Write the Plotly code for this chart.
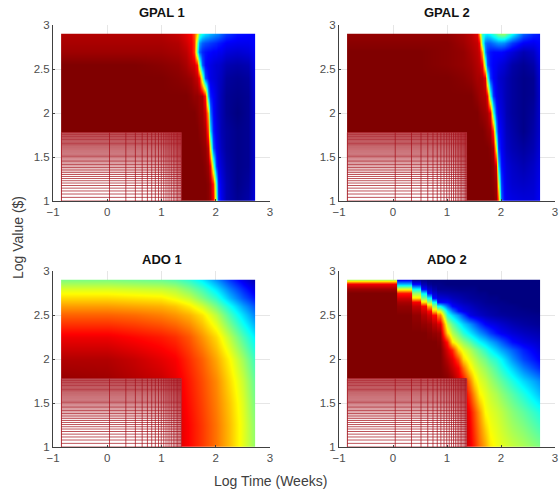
import numpy as np
import plotly.graph_objects as go

W, H = 559, 491
titles = ["GPAL 1", "GPAL 2", "ADO 1", "ADO 2"]
x_label = "Log Time (Weeks)"
y_label = "Log Value ($)"
tick_x = [-1, 0, 1, 2, 3]
tick_y = [1, 1.5, 2, 2.5, 3]

# Mesh lines of the lower-left region (weeks and dollars)
mesh_weeks = [0.143, 1.1, 2.2, 3.3, 4.4, 5.5, 6.6, 7.7, 8.8, 9.9, 11.0, 12.1, 13.2, 14.3, 15.4, 16.5,
              17.6, 18.7, 19.8, 20.9, 22.0, 23.1]
mesh_value = [10, 11, 12, 13, 14, 15, 16, 17, 18, 19, 20, 21, 22, 23, 24, 25, 26, 27, 28, 29, 30, 31, 32, 33, 34, 35,
              36, 37, 38, 39, 40, 41, 42, 43, 44, 45, 46, 47, 48, 49, 50, 51, 52, 53, 54, 55, 56, 57, 58, 59, 60]

gpal_x = [-0.85, 0.5, 1.0, 1.3, 1.45, 1.55, 1.6, 1.65, 1.7, 1.75, 1.8, 1.85, 1.9, 1.95, 2.0, 2.05, 2.1, 2.2, 2.4, 2.6, 2.72]
gpal_y = [1.0, 1.2, 1.4, 1.6, 1.8, 2.0, 2.2, 2.4, 2.55, 2.7, 2.8, 2.9]

gpal1_z = [
 [1,1,1,1,1,1,1,1,1,1,1,.99,.97,.88,.50,.17,.11,.05,.02,.04,.10],
 [1,1,1,1,1,1,1,1,1,1,1,.99,.96,.84,.42,.15,.10,.05,.01,.03,.09],
 [1,1,1,1,1,1,1,1,1,1,.99,.97,.88,.50,.17,.11,.08,.04,.01,.02,.08],
 [1,1,1,1,1,1,1,1,1,.99,.98,.93,.60,.20,.12,.09,.06,.03,.01,.02,.08],
 [1,1,1,1,1,1,1,1,.99,.98,.96,.80,.35,.15,.10,.08,.05,.03,.01,.02,.08],
 [1,1,1,1,1,1,1,.99,.98,.97,.92,.68,.24,.13,.09,.07,.05,.02,.00,.02,.08],
 [1,1,1,1,1,.99,.98,.98,.97,.96,.85,.30,.15,.12,.09,.07,.05,.02,.01,.02,.09],
 [1,1,1,.99,.98,.97,.95,.93,.87,.53,.19,.13,.10,.09,.08,.07,.06,.03,.02,.03,.10],
 [1,1,.99,.98,.96,.93,.92,.85,.50,.21,.13,.11,.10,.09,.08,.08,.07,.05,.04,.05,.11],
 [.97,.97,.97,.96,.94,.90,.82,.43,.22,.16,.14,.13,.13,.12,.12,.11,.11,.09,.08,.09,.12],
 [.96,.96,.96,.95,.92,.89,.82,.50,.28,.22,.20,.19,.18,.17,.16,.15,.14,.12,.11,.11,.13],
 [.95,.95,.95,.93,.90,.87,.80,.65,.45,.38,.34,.32,.30,.28,.26,.25,.22,.18,.14,.13,.12],
]

gpal2_z = [
 [1,1,1,1,1,1,1,1,1,1,1,1,.98,.80,.22,.13,.11,.10,.09,.09,.12],
 [1,1,1,1,1,1,1,1,1,1,1,.99,.97,.60,.18,.12,.10,.08,.07,.08,.11],
 [1,1,1,1,1,1,1,1,1,1,1,.98,.92,.35,.14,.11,.09,.07,.05,.07,.10],
 [1,1,1,1,1,1,1,1,1,1,.99,.96,.58,.18,.12,.09,.07,.05,.03,.05,.09],
 [1,1,1,1,1,1,1,1,.99,.98,.97,.82,.30,.14,.11,.08,.06,.04,.01,.04,.08],
 [1,1,1,1,1,1,.99,.98,.97,.96,.90,.42,.16,.11,.09,.07,.05,.03,.01,.03,.08],
 [1,1,1,1,1,.98,.97,.96,.95,.88,.42,.17,.11,.09,.08,.06,.05,.03,.01,.02,.08],
 [1,1,1,.99,.98,.96,.96,.95,.90,.45,.17,.12,.10,.08,.07,.06,.05,.03,.01,.02,.09],
 [1,1,.99,.98,.97,.95,.94,.88,.50,.20,.14,.12,.11,.10,.09,.08,.07,.04,.02,.04,.10],
 [1,1,.99,.98,.96,.94,.92,.70,.25,.17,.14,.13,.13,.13,.13,.12,.11,.09,.05,.07,.12],
 [.99,.99,.99,.97,.95,.93,.88,.45,.24,.22,.22,.24,.26,.27,.27,.26,.24,.18,.12,.11,.13],
 [.98,.98,.98,.96,.94,.90,.72,.42,.37,.36,.38,.42,.46,.50,.52,.52,.48,.38,.22,.16,.14],
]

ado1_x = [-0.85, 0, 0.5, 1, 1.25, 1.5, 1.75, 2, 2.25, 2.5, 2.72]
ado1_y = [1, 1.25, 1.5, 1.75, 2, 2.25, 2.5, 2.6, 2.7, 2.8, 2.9]
ado1_z = [
 [1,1,.98,.95,.92,.87,.82,.76,.69,.60,.52],
 [1,1,.98,.95,.92,.87,.82,.76,.69,.60,.51],
 [1,.99,.97,.94,.91,.86,.81,.75,.68,.59,.49],
 [.98,.97,.95,.93,.90,.85,.80,.74,.66,.57,.47],
 [.95,.95,.93,.90,.88,.83,.78,.71,.63,.53,.43],
 [.89,.89,.87,.85,.83,.79,.73,.66,.56,.45,.36],
 [.78,.78,.77,.75,.73,.70,.65,.56,.45,.34,.25],
 [.72,.72,.71,.70,.68,.64,.58,.49,.39,.28,.20],
 [.66,.66,.65,.64,.61,.57,.50,.42,.31,.21,.14],
 [.59,.59,.58,.57,.55,.50,.44,.35,.25,.16,.09],
 [.50,.50,.49,.48,.46,.42,.36,.27,.18,.10,.05],
]

# ADO 2: the first seven columns are flat steps between these edges
ado2_step_lo = [-0.85, 0.07, 0.35, 0.52, 0.64, 0.73, 0.81]
ado2_step_hi = [0.06, 0.34, 0.51, 0.63, 0.72, 0.80, 0.87]
ado2_x_smooth = [1.0, 1.1, 1.2, 1.3, 1.4, 1.5, 1.6, 1.7, 1.8, 1.9, 2.0, 2.2, 2.4, 2.72]
ado2_y = [1, 1.2, 1.4, 1.6, 1.75, 1.9, 2.0, 2.1, 2.2, 2.3, 2.4, 2.5, 2.55, 2.6, 2.65, 2.7, 2.75, 2.8, 2.85, 2.9]
ado2_z = [
 [1,1,1,1,1,1,1, 1,.99,.98,.94,.90,.84,.77,.71,.645,.615,.60,.57,.545,.50],
 [1,1,1,1,1,1,1, 1,.99,.98,.94,.895,.82,.75,.675,.62,.60,.58,.54,.51,.45],
 [1,1,1,1,1,1,1, 1,.99,.975,.925,.88,.80,.72,.625,.60,.58,.56,.51,.47,.40],
 [1,1,1,1,1,1,1, 1,.985,.95,.905,.82,.725,.635,.60,.57,.545,.515,.46,.405,.31],
 [1,1,1,1,1,1,1, .995,.975,.92,.87,.76,.655,.60,.57,.535,.50,.47,.405,.34,.26],
 [1,1,1,1,1,1,1, .97,.93,.88,.765,.65,.595,.56,.525,.49,.45,.41,.33,.25,.16],
 [1,1,1,1,1,1,1, .945,.90,.80,.66,.60,.56,.52,.485,.44,.41,.37,.27,.19,.115],
 [1,1,1,1,1,1,1, .91,.84,.67,.60,.555,.51,.47,.42,.375,.33,.29,.22,.155,.09],
 [1,1,1,1,1,1,.99, .85,.64,.57,.52,.47,.42,.375,.335,.295,.255,.215,.135,.10,.07],
 [1,1,1,1,.99,.98,.97, .66,.55,.48,.415,.36,.315,.27,.225,.18,.14,.115,.085,.065,.045],
 [1,1,.99,.98,.97,.94,.91, .56,.47,.39,.33,.275,.225,.175,.125,.105,.09,.075,.05,.035,.02],
 [1,1,.98,.95,.92,.87,.75, .41,.34,.265,.19,.105,.085,.07,.055,.045,.035,.03,.02,.015,.01],
 [1,.99,.96,.92,.87,.68,.60, .35,.24,.14,.105,.085,.07,.055,.045,.035,.03,.02,.015,.01,0],
 [1,.98,.93,.88,.70,.53,.375, .22,.125,.10,.08,.065,.05,.04,.03,.025,.02,.015,.01,0,0],
 [1,.96,.88,.65,.52,.375,.125, .125,.09,.07,.055,.045,.035,.03,.02,.015,.01,.01,0,0,0],
 [1,.92,.65,.50,.375,.125,.09, .08,.06,.05,.04,.03,.025,.02,.015,.01,.01,0,0,0,0],
 [1,.85,.52,.35,.125,.08,.05, .04,.035,.03,.025,.02,.015,.01,.01,0,0,0,0,0,0],
 [.97,.60,.375,.125,.07,.04,.02, .02,.015,.01,.01,.01,.01,0,0,0,0,0,0,0,0],
 [.89,.30,.125,.05,.02,.01,.01, 0,0,0,0,0,0,0,0,0,0,0,0,0,0],
 [.55,.12,.03,.01,0,0,0, 0,0,0,0,0,0,0,0,0,0,0,0,0,0],
]

jet = [[0, "#000080"], [0.125, "#0000ff"], [0.375, "#00ffff"], [0.625, "#ffff00"], [0.875, "#ff0000"], [1, "#800000"]]

domains_x = [(53, 270), (339, 555), (53, 270), (339, 555)]
domains_y = [(25, 201), (25, 201), (271, 447), (271, 447)]
TXT = "Liberation Sans, Arial, sans-serif"
TICK = "#4d4d4d"


def pad(x, y, z):
    # plotly extends a smoothed heatmap half a cell past its outer knots; keep that overhang negligible
    x, y, z = np.asarray(x, float), np.asarray(y, float), np.asarray(z, float)
    z = np.concatenate([z[:, :1], z, z[:, -1:]], axis=1)
    z = np.concatenate([z[:1], z, z[-1:]], axis=0)
    x = np.concatenate([[x[0]], [x[0] + 1e-3], x[1:-1], [x[-1] - 1e-3], [x[-1]]])
    y = np.concatenate([[y[0]], [y[0] + 1e-3], y[1:-1], [y[-1] - 1e-3], [y[-1]]])
    return x, y, z


ado2_x = [v for pair in zip(ado2_step_lo, ado2_step_hi) for v in pair] + ado2_x_smooth
ado2_cols = np.asarray(ado2_z, float)
ado2_full = np.concatenate([np.repeat(ado2_cols[:, :7], 2, axis=1), ado2_cols[:, 7:]], axis=1)

panels = [
    (gpal_x, gpal_y, gpal1_z),
    (gpal_x, gpal_y, gpal2_z),
    (ado1_x, ado1_y, ado1_z),
    (ado2_x, ado2_y, ado2_full),
]

mx = np.log10(mesh_weeks)
my = np.log10(mesh_value)
line_x, line_y = [], []
for v in my:
    line_x += [mx[0], mx[-1], None]
    line_y += [v, v, None]
for v in mx:
    line_x += [v, v, None]
    line_y += [my[0], my[-1], None]

fig = go.Figure()
layout = dict(
    width=W, height=H, margin=dict(l=0, r=0, t=0, b=0), autosize=False,
    paper_bgcolor="white", plot_bgcolor="white", showlegend=False,
)
annotations = []
for i, (px, py, pz) in enumerate(panels):
    n = "" if i == 0 else str(i + 1)
    xa, ya = f"x{n}", f"y{n}"
    X, Y, Z = pad(px, py, pz)
    fig.add_trace(go.Heatmap(x=X, y=Y, z=Z, zmin=0, zmax=1, zsmooth="best", colorscale=jet,
                             showscale=False, hoverinfo="skip", xaxis=xa, yaxis=ya))
    fig.add_trace(go.Scatter(x=[mx[0], mx[-1], mx[-1], mx[0], mx[0]], y=[my[0], my[0], my[-1], my[-1], my[0]],
                             mode="lines", line=dict(width=0), fill="toself", fillcolor="white",
                             hoverinfo="skip", xaxis=xa, yaxis=ya))
    fig.add_trace(go.Scatter(x=line_x, y=line_y, mode="lines", line=dict(color="rgba(165,15,25,0.72)", width=1),
                             hoverinfo="skip", xaxis=xa, yaxis=ya))
    dx, dy = domains_x[i], domains_y[i]
    common = dict(showline=True, linecolor="#404040", linewidth=1, ticks="inside", ticklen=2, tickcolor="#404040",
                  showgrid=True, gridcolor="#e6e6e6", gridwidth=1, zeroline=False, automargin=False,
                  tickfont=dict(family=TXT, size=11.5, color=TICK))
    layout[f"xaxis{n}"] = dict(domain=[dx[0] / W, dx[1] / W], range=[-1, 3], tickvals=tick_x,
                               anchor=ya, **common)
    layout[f"yaxis{n}"] = dict(domain=[1 - dy[1] / H, 1 - dy[0] / H], range=[1, 3], tickvals=tick_y,
                               ticktext=[f"{t:g}" for t in tick_y], anchor=xa, **common)
    annotations.append(dict(text=f"<b>{titles[i]}</b>", x=(dx[0] + dx[1]) / 2 / W, y=1 - (dy[0] - 12) / H,
                            xref="paper", yref="paper", showarrow=False, xanchor="center", yanchor="middle",
                            font=dict(family=TXT, size=13, color="#111111")))

annotations.append(dict(text=x_label, x=270 / W, y=1 - 481 / H, xref="paper", yref="paper", showarrow=False,
                        xanchor="center", yanchor="middle", font=dict(family=TXT, size=14, color="#404040")))
annotations.append(dict(text=y_label, x=18 / W, y=1 - 238 / H, xref="paper", yref="paper", showarrow=False, textangle=-90,
                        xanchor="center", yanchor="middle", font=dict(family=TXT, size=14, color="#404040")))
fig.update_layout(annotations=annotations, **layout)
fig.write_html("out.html", post_script="document.body.style.margin='0';", config={"displayModeBar": False})
